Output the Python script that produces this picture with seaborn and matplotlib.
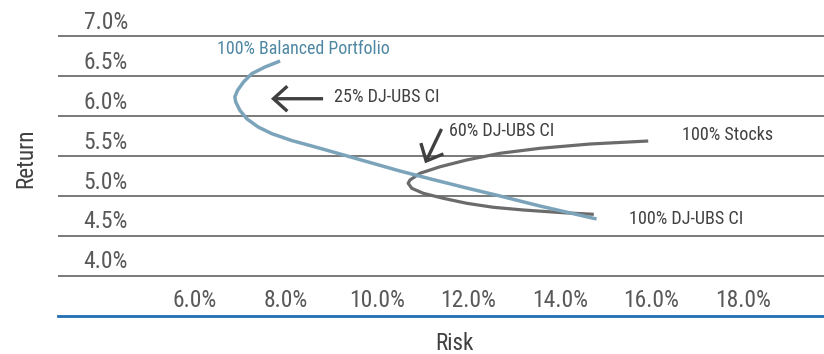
import os
import matplotlib
matplotlib.use("Agg")
import matplotlib.pyplot as plt
import matplotlib.font_manager as fm
from matplotlib.textpath import TextPath
import seaborn as sns
import pandas as pd

# ---- data ----
y_ticks = [4.0, 4.5, 5.0, 5.5, 6.0, 6.5, 7.0]
x_ticks = [6.0, 8.0, 10.0, 12.0, 14.0, 16.0, 18.0]

balanced_risk = [7.88, 7.55, 7.26, 7.08, 6.95, 6.89, 6.91, 7.00, 7.15, 7.40, 7.70,
                 8.13, 8.61, 9.04, 9.77, 10.50, 11.22, 11.96, 12.69, 13.56, 14.80]
balanced_return = [6.6875, 6.6125, 6.529, 6.425, 6.321, 6.2375, 6.175, 6.071, 5.966,
                   5.8625, 5.779, 5.694, 5.619, 5.55, 5.431, 5.3125, 5.206, 5.10,
                   5.00, 4.875, 4.7125]

stocks_risk = [15.93, 14.66, 13.56, 12.69, 11.96, 11.38, 10.94, 10.72, 10.68, 10.76,
               11.01, 11.45, 11.96, 12.54, 13.20, 14.07, 14.74]
stocks_return = [5.6875, 5.65, 5.596, 5.534, 5.45, 5.366, 5.284, 5.20, 5.159, 5.096,
                 5.034, 4.971, 4.909, 4.859, 4.825, 4.791, 4.771]

labels = ["100% Balanced Portfolio", "25% DJ-UBS CI", "60% DJ-UBS CI",
          "100% Stocks", "100% DJ-UBS CI"]

# ---- style ----
sns.set_theme(style="white")
plt.rcParams["font.family"] = ["Liberation Sans", "DejaVu Sans"]


def pick_font():
    prefs = ["liberationsansnarrow-regular", "robotocondensed-regular",
             "dejavusanscondensed.", "notosans-condensed.", "opensans-condensedregular",
             "opensanscondensed-regular", "arialnarrow"]
    files = [f.fname for f in fm.fontManager.ttflist]
    for p in prefs:
        for fn in files:
            b = os.path.basename(fn).lower().replace("_", "").replace(" ", "")
            if b.startswith(p):
                return fm.FontProperties(fname=fn)
    return fm.FontProperties(family=["Liberation Sans", "DejaVu Sans"])


FP = pick_font()
DPI = 100


def fit(text, target_px):
    w = TextPath((0, 0), text, size=100, prop=FP).get_extents().width
    return target_px * 72 / DPI * 100 / w


W, H = 824, 354
fig = plt.figure(figsize=(W / DPI, H / DPI), dpi=DPI)
ax = fig.add_axes([58 / W, 1 - 316 / H, 766 / W, 316 / H])

df_bal = pd.DataFrame({"risk": balanced_risk, "ret": balanced_return})
df_stk = pd.DataFrame({"risk": stocks_risk, "ret": stocks_return})

sns.lineplot(data=df_stk, x="risk", y="ret", sort=False, estimator=None, ax=ax,
             color="#6b6b6b", lw=2.3, zorder=3)
sns.lineplot(data=df_bal, x="risk", y="ret", sort=False, estimator=None, ax=ax,
             color="#7ba4bb", lw=2.5, zorder=4)
for ln in ax.lines:
    ln.set_solid_joinstyle("round")
    ln.set_solid_capstyle("butt")

ax.set_xlim(3.023, 19.774)
ax.set_ylim(3.5, 7.45)

# gridlines
ax.set_yticks(y_ticks)
ax.set_yticklabels([])
ax.set_xticks([])
ax.yaxis.grid(True, color="#555555", lw=1.1)
ax.tick_params(left=False, bottom=False)
for s in ["top", "left", "right"]:
    ax.spines[s].set_visible(False)
ax.spines["bottom"].set_color("#1f6fb2")
ax.spines["bottom"].set_linewidth(2)

tick_color = "#595959"
tick_size = fit("10.0%", 53)
for v in y_ticks:
    ax.text(0.0914, v + 0.175, f"{v:.1f}%", transform=ax.get_yaxis_transform(),
            ha="right", va="center", fontproperties=FP, fontsize=tick_size, color=tick_color)
for v in x_ticks:
    ax.text(v, 3.69, f"{v:.1f}%", ha="center", va="center", fontproperties=FP,
            fontsize=tick_size, color=tick_color)

title_size = fit("Return", 56)
ax.set_ylabel("Return", fontproperties=FP, fontsize=title_size, color="#404040")
ax.set_xlabel("Risk", fontproperties=FP, fontsize=title_size, color="#404040")
ax.yaxis.set_label_coords(-0.0274, 0.5)
ax.xaxis.set_label_coords(0.5176, -0.050)

txt = "#404040"
ann_size = fit("100% DJ-UBS CI", 112)
ax.text(6.50, 6.8375, labels[0], ha="left", va="center", fontproperties=FP,
        fontsize=fit(labels[0], 171), color="#4f87a3")
ax.text(9.06, 6.2375, labels[1], ha="left", va="center", fontproperties=FP,
        fontsize=ann_size, color=txt)
ax.text(11.57, 5.8125, labels[2], ha="left", va="center", fontproperties=FP,
        fontsize=ann_size, color=txt)
ax.text(16.66, 5.7625, labels[3], ha="left", va="center", fontproperties=FP,
        fontsize=ann_size, color=txt)
ax.text(15.52, 4.7125, labels[4], ha="left", va="center", fontproperties=FP,
        fontsize=ann_size, color=txt)

arrow = dict(arrowstyle="->, head_length=0.5, head_width=0.45", lw=2.4,
             color="#404040", mutation_scale=20, shrinkA=0, shrinkB=0,
             joinstyle="miter", capstyle="butt")
ax.annotate("", xy=(7.68, 6.216), xytext=(8.82, 6.216), arrowprops=arrow)
ax.annotate("", xy=(11.05, 5.409), xytext=(11.41, 5.8375), arrowprops=arrow)

fig.savefig("out.png", dpi=DPI)
